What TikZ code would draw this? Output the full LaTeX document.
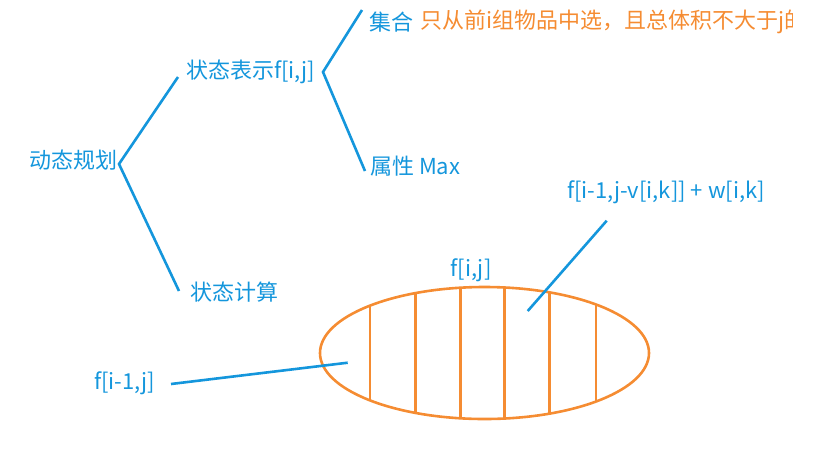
\documentclass[tikz,border=0pt]{standalone}
\usepackage{fontspec}
\setmainfont{Noto Sans CJK SC}
\usetikzlibrary{shapes.geometric}
\definecolor{myblue}{RGB}{20,150,220}
\definecolor{myorange}{RGB}{245,140,50}
\begin{document}
\begin{tikzpicture}[x=1pt,y=-1pt,
  lbl/.style={text=myblue,font=\fontsize{22}{24}\selectfont,inner sep=2pt,anchor=west},
  olbl/.style={text=myorange,font=\fontsize{22}{24}\selectfont,inner sep=2pt,anchor=west},
  bline/.style={draw=myblue,line width=2.6pt},
  oline/.style={draw=myorange,line width=2.6pt}]
\useasboundingbox (0,0) rectangle (813,456);
% tree
\node[lbl] (dp) at (27,160) {动态规划};
\node[lbl] (repr) at (184,72) {状态表示f[i,j]};
\node[lbl] (calc) at (188,292) {状态计算};
\node[lbl] (set) at (367,22) {集合};
\node[lbl] (attr) at (368,166) {属性 Max};
\begin{scope}
\clip (0,0) rectangle (792,456);
\node[olbl] (setdesc) at (418,22) {只从前i组物品中选，且总体积不大于j的};
\end{scope}
\coordinate (b1) at (119,164);
\coordinate (b2) at (323,72);
\coordinate (e1) at (178,77);
\coordinate (e2) at (179,291);
\coordinate (e3) at (362,10);
\coordinate (e4) at (365,171);
\draw[bline] (e1) -- (b1) -- (e2);
\draw[bline] (e3) -- (b2) -- (e4);
% ellipse
\node[draw=myorange,line width=2.6pt,ellipse,minimum width=329pt,minimum height=132pt,inner sep=0pt] (ell) at (484.5,353) {};
\begin{scope}
\clip (484.5,353) ellipse [x radius=164.5, y radius=66];
\foreach \xx in {370,415.7,460.3,504.3,549.7,596}
  \draw[oline] (\xx,280) -- (\xx,425);
\end{scope}
\node[lbl,anchor=center] (fij) at (471,270) {f[i,j]};
\node[lbl,anchor=center] (form) at (666,192) {f[i-1,j-v[i,k]] + w[i,k]};
\node[lbl] (fprev) at (92,383) {f[i-1,j]};
\coordinate (p0) at (171,384);
\coordinate (p1) at (347.7,362.7);
\coordinate (p2) at (527.7,311);
\coordinate (p3) at (606.7,220.7);
\draw[bline] (p0) -- (p1);
\draw[bline] (p3) -- (p2);
\end{tikzpicture}
\end{document}
